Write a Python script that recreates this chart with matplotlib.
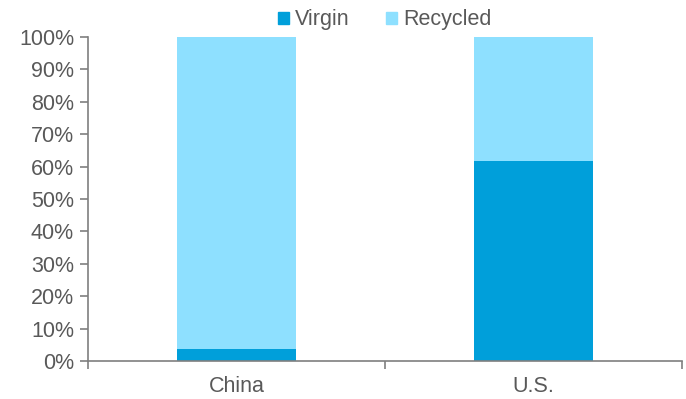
import matplotlib.pyplot as plt
from matplotlib.patches import Patch

countries = ["China", "U.S."]
virgin = [3.7, 61.7]
recycled = [96.3, 38.3]

virgin_color = "#009FDA"
recycled_color = "#8EE0FF"
text_color = "#595959"
axis_color = "#7F7F7F"

plt.rcParams["font.family"] = ["Liberation Sans", "DejaVu Sans"]

fig = plt.figure(figsize=(6.86, 3.99), dpi=100)
ax = fig.add_axes([88 / 686, 1 - 361 / 399, 594 / 686, 324 / 399])

x = list(range(len(countries)))
ax.bar(x, virgin, width=0.4, color=virgin_color)
ax.bar(x, recycled, width=0.4, bottom=virgin, color=recycled_color)

ax.set_xlim(-0.5, len(countries) - 0.5)
ax.set_ylim(0, 100)
ax.set_yticks(range(0, 101, 10))
ax.set_yticklabels([f"{v}%" for v in range(0, 101, 10)])
ax.set_xticks(x)
ax.set_xticklabels(countries)
ax.tick_params(axis="x", length=0, pad=11)
# category separators on the x axis
ax.set_xticks([-0.5, 0.5, 1.5], minor=True)
ax.tick_params(axis="x", which="minor", length=6, direction="out", color=axis_color, width=1.2)
ax.tick_params(axis="y", length=6, direction="out", color=axis_color, width=1.2, pad=4)
ax.tick_params(labelsize=15.5, labelcolor=text_color)

for side in ["top", "right"]:
    ax.spines[side].set_visible(False)
for side in ["left", "bottom"]:
    ax.spines[side].set_color(axis_color)
    ax.spines[side].set_linewidth(1.2)

handles = [Patch(color=virgin_color, label="Virgin"), Patch(color=recycled_color, label="Recycled")]
fig.legend(handles=handles, loc="center", bbox_to_anchor=(385 / 686, 1 - 20 / 399),
           ncol=2, frameon=False, fontsize=15.5, labelcolor=text_color,
           handlelength=0.5, handleheight=0.5, handletextpad=0.3, columnspacing=1.7)

fig.savefig("out.png", dpi=100)
